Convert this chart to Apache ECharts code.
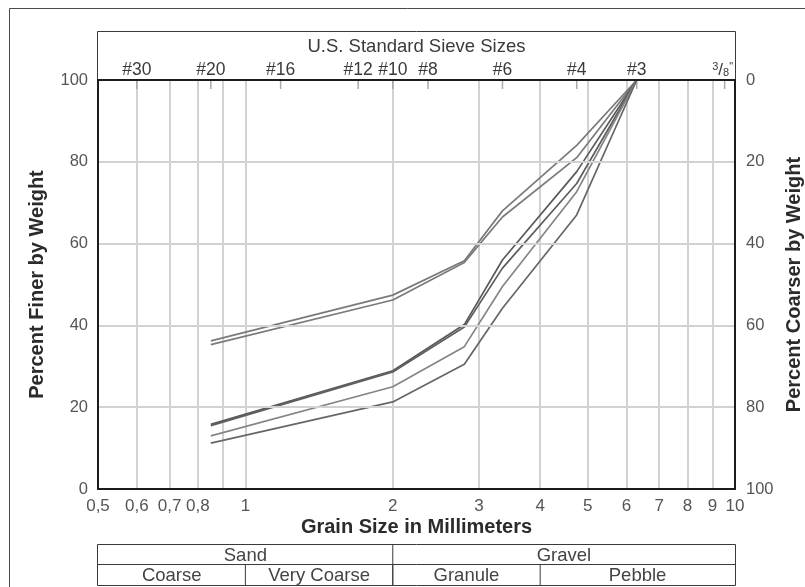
<!DOCTYPE html>
<html>
<head>
<meta charset="utf-8">
<script src="https://cdn.jsdelivr.net/npm/echarts@6/dist/echarts.min.js"></script>
<style>
  html, body { margin: 0; padding: 0; background: #fff; }
  #chart { width: 805px; height: 587px; }
</style>
</head>
<body>
<div id="chart"></div>
<script>
// Grain size distribution curves (sieve analysis)
const sieveSizesMm = [0.85, 2.0, 2.8, 3.35, 4.75, 6.3];
const sampleA1 = [36.2, 47.4, 55.8, 68.0, 84.0, 100];
const sampleA2 = [35.3, 46.2, 55.4, 66.5, 81.0, 100];
const sampleB1 = [15.8, 28.9, 40.2, 56.0, 77.6, 100];
const sampleB2 = [15.5, 28.6, 39.6, 54.0, 74.7, 100];
const sampleC  = [13.0, 25.0, 34.8, 49.5, 72.7, 100];
const sampleD  = [11.2, 21.3, 30.5, 44.2, 67.0, 100];

// Axis ticks and labels
const bottomTickValues = [0.5, 0.6, 0.7, 0.8, 1, 2, 3, 4, 5, 6, 7, 8, 9, 10];
const bottomTickLabels = ['0,5', '0,6', '0,7', '0,8', '1', '2', '3', '4', '5', '6', '7', '8', '9', '10'];
const gridValues = [0.6, 0.7, 0.8, 0.9, 1, 2, 3, 4, 5, 6, 7, 8, 9];
const sieveTickValues = [0.6, 0.85, 1.18, 1.7, 2.0, 2.36, 3.35, 4.75, 6.3, 9.525];
const sieveTickLabels = ['#30', '#20', '#16', '#12', '#10', '#8', '#6', '#4', '#3', '3/8"'];

// Size classes shown in the table under the chart
const classNames = ['Sand', 'Gravel'];
const classBounds = [[0.5, 2], [2, 10]];
const subclassNames = ['Coarse', 'Very Coarse', 'Granule', 'Pebble'];
const subclassBounds = [[0.5, 1], [1, 2], [2, 4], [4, 10]];

const FONT = '"Liberation Sans", Arial, sans-serif';
const samples = [sampleA1, sampleA2, sampleB1, sampleB2, sampleC, sampleD];
const lineColors = ['#7a7a7a', '#7a7a7a', '#5a5a5a', '#5e5e5e', '#858585', '#666666'];

const chart = echarts.init(document.getElementById('chart'));

const axisLineStyle = { color: '#1c1c1c', width: 2 };
const titleStyle = { fontFamily: FONT, fontSize: 20, fontWeight: 'bold', color: '#2b2b2b' };

chart.setOption({
  animation: false,
  grid: { left: 98, top: 80, right: 70, bottom: 98, containLabel: false, outerBoundsMode: 'none' },
  xAxis: [
    {
      type: 'log', logBase: 10, min: 0.5, max: 10, position: 'bottom', z: 10,
      axisLine: { lineStyle: axisLineStyle }, axisTick: { show: false },
      axisLabel: { show: false }, splitLine: { show: false }, minorTick: { show: false }
    },
    {
      type: 'log', logBase: 10, min: 0.5, max: 10, position: 'top', z: 10,
      axisLine: { lineStyle: axisLineStyle }, axisTick: { show: false },
      axisLabel: { show: false }, splitLine: { show: false }
    }
  ],
  yAxis: [
    {
      type: 'value', min: 0, max: 100, interval: 20, position: 'left', z: 10,
      name: 'Percent Finer by Weight', nameLocation: 'middle', nameGap: 51, nameRotate: 90,
      nameTextStyle: titleStyle,
      axisLine: { show: true, lineStyle: axisLineStyle }, axisTick: { show: false },
      axisLabel: { margin: 10, fontFamily: FONT, fontSize: 16.5, color: '#555' },
      splitLine: { show: true, lineStyle: { color: '#d2d2d2', width: 2 } }
    },
    {
      type: 'value', min: 0, max: 100, interval: 20, position: 'right', inverse: true, z: 10,
      name: 'Percent Coarser by Weight', nameLocation: 'middle', nameGap: 43, nameRotate: 90,
      nameTextStyle: titleStyle,
      axisLine: { show: true, lineStyle: axisLineStyle }, axisTick: { show: false },
      axisLabel: { margin: 11, fontFamily: FONT, fontSize: 16.5, color: '#555' },
      splitLine: { show: false }
    }
  ],
  series: [
    {
      type: 'line', data: [], silent: true, z: 1,
      markLine: {
        silent: true, symbol: 'none', animation: false, label: { show: false },
        lineStyle: { color: '#d2d2d2', width: 2, type: 'solid' },
        data: gridValues.map(v => ({ xAxis: v }))
      }
    }
  ].concat(samples.map((s, i) => ({
    type: 'line', silent: true, z: 5, symbol: 'none',
    data: sieveSizesMm.map((x, j) => [x, s[j]]),
    lineStyle: { color: lineColors[i], width: 1.7 }
  })))
});

// Decorations and text placed through the chart's own scales
function px(v) { return chart.convertToPixel({ xAxisIndex: 0 }, v); }
const plotLeft = px(0.5), plotRight = px(10);
const plotTop = chart.convertToPixel({ yAxisIndex: 0 }, 100);
const midX = (plotLeft + plotRight) / 2;

const g = [];
const stroke = (c, w) => ({ stroke: c, lineWidth: w, fill: null });

// outer frame
g.push({ type: 'polyline', shape: { points: [[9.5, 600], [9.5, 8.5], [820, 8.5]] }, style: stroke('#4a4a4a', 1), silent: true });
// header box holding sieve sizes
g.push({ type: 'polyline', shape: { points: [[plotLeft - 0.5, plotTop], [plotLeft - 0.5, 31.5], [plotRight + 0.5, 31.5], [plotRight + 0.5, plotTop]] }, style: stroke('#3a3a3a', 1), silent: true });
g.push({ type: 'text', x: midX, y: 47, style: { text: 'U.S. Standard Sieve Sizes', font: '18.5px ' + FONT, fill: '#3a3a3a', align: 'center', verticalAlign: 'middle' }, silent: true });

sieveTickValues.forEach((v, i) => {
  const x = px(v);
  g.push({ type: 'line', shape: { x1: x, y1: plotTop, x2: x, y2: plotTop + 9 }, style: { stroke: '#a8a8a8', lineWidth: 1.5 }, z: 5, silent: true });
  if (sieveTickLabels[i] === '3/8"') {
    g.push({
      type: 'text', x: x - 2, y: 70,
      style: {
        text: '{s|3}{m|/}{b|8}{s|"}', align: 'center', verticalAlign: 'middle', fill: '#3a3a3a',
        rich: {
          s: { font: '11px ' + FONT, fill: '#3a3a3a', verticalAlign: 'top' },
          m: { font: '17px ' + FONT, fill: '#3a3a3a' },
          b: { font: '11px ' + FONT, fill: '#3a3a3a', verticalAlign: 'bottom' }
        }
      }, silent: true
    });
  } else {
    g.push({ type: 'text', x: x, y: 70, style: { text: sieveTickLabels[i], font: '17.5px ' + FONT, fill: '#3a3a3a', align: 'center', verticalAlign: 'middle' }, silent: true });
  }
});

bottomTickValues.forEach((v, i) => {
  g.push({ type: 'text', x: px(v), y: 506, style: { text: bottomTickLabels[i], font: '17px ' + FONT, fill: '#555', align: 'center', verticalAlign: 'middle' }, silent: true });
});
g.push({ type: 'text', x: midX, y: 527, style: { text: 'Grain Size in Millimeters', font: 'bold 20px ' + FONT, fill: '#2b2b2b', align: 'center', verticalAlign: 'middle' }, silent: true });

// size class table
const tTop = 544.5, tMid = 564.5, tBot = 585.5;
const tb = { stroke: '#3a3a3a', lineWidth: 1 };
g.push({ type: 'rect', shape: { x: plotLeft - 0.5, y: tTop, width: plotRight - plotLeft + 1, height: tBot - tTop }, style: { stroke: '#3a3a3a', lineWidth: 1, fill: null }, silent: true });
g.push({ type: 'line', shape: { x1: plotLeft, y1: tMid, x2: plotRight, y2: tMid }, style: tb, silent: true });
classBounds.forEach((b, i) => {
  if (i > 0) g.push({ type: 'line', shape: { x1: px(b[0]), y1: tTop, x2: px(b[0]), y2: tBot }, style: tb, silent: true });
  g.push({ type: 'text', x: (px(b[0]) + px(b[1])) / 2, y: (tTop + tMid) / 2 + 1, style: { text: classNames[i], font: '18.5px ' + FONT, fill: '#444', align: 'center', verticalAlign: 'middle' }, silent: true });
});
subclassBounds.forEach((b, i) => {
  if (i > 0) g.push({ type: 'line', shape: { x1: px(b[0]), y1: tMid, x2: px(b[0]), y2: tBot }, style: tb, silent: true });
  g.push({ type: 'text', x: (px(b[0]) + px(b[1])) / 2, y: (tMid + tBot) / 2 + 1, style: { text: subclassNames[i], font: '18.5px ' + FONT, fill: '#444', align: 'center', verticalAlign: 'middle' }, silent: true });
});

chart.setOption({ graphic: g });
</script>
</body>
</html>
